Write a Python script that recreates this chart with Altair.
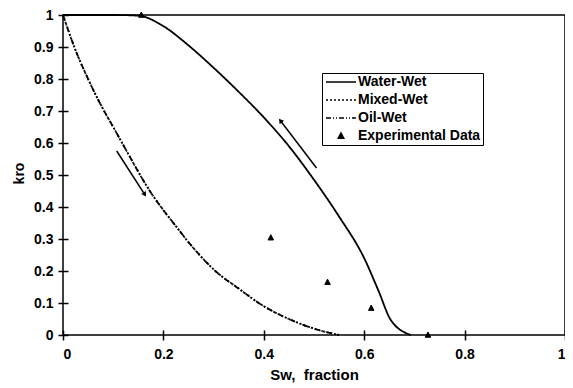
import math
import altair as alt
import pandas as pd

# ---- data ----
ww_x = [0.0, 0.05, 0.10, 0.15, 0.20, 0.25, 0.30, 0.35, 0.40, 0.45, 0.50, 0.55, 0.60, 0.628, 0.653, 0.693]
ww_y = [1.0, 1.0, 1.0, 0.998, 0.965, 0.905, 0.835, 0.76, 0.68, 0.59, 0.485, 0.37, 0.24, 0.14, 0.047, 0.0]

ow_x = [0.0, 0.025, 0.05, 0.075, 0.10, 0.125, 0.15, 0.175, 0.20, 0.225, 0.25, 0.275, 0.30, 0.35, 0.40, 0.45, 0.50, 0.55]
ow_y = [1.0, 0.89, 0.80, 0.72, 0.65, 0.58, 0.51, 0.445, 0.39, 0.34, 0.29, 0.245, 0.205, 0.145, 0.09, 0.05, 0.02, 0.0]

mw_x = ow_x
mw_y = ow_y

exp_x = [0.156, 0.414, 0.527, 0.614, 0.727]
exp_y = [1.0, 0.304, 0.165, 0.084, 0.0]

arrow_x = [0.107, 0.505]
arrow_y = [0.575, 0.522]
arrow_x2 = [0.162, 0.434]
arrow_y2 = [0.441, 0.668]

series_names = ["Water-Wet", "Mixed-Wet", "Oil-Wet", "Experimental Data"]
x_ticks = [0, 0.2, 0.4, 0.6, 0.8, 1]
y_ticks = [0, 0.1, 0.2, 0.3, 0.4, 0.5, 0.6, 0.7, 0.8, 0.9, 1]

W, H = 502, 320
FONT = "Liberation Sans"

lines_df = pd.concat([
    pd.DataFrame({"x": ww_x, "y": ww_y, "series": "Water-Wet"}),
    pd.DataFrame({"x": mw_x, "y": mw_y, "series": "Mixed-Wet"}),
    pd.DataFrame({"x": ow_x, "y": ow_y, "series": "Oil-Wet"}),
], ignore_index=True)
lines_df["order"] = range(len(lines_df))

pts_df = pd.DataFrame({"x": exp_x, "y": exp_y, "series": "Experimental Data"})

angles = []
for a, b, c, d in zip(arrow_x, arrow_y, arrow_x2, arrow_y2):
    dx = (c - a) * W
    dy = -(d - b) * H
    angles.append(math.degrees(math.atan2(dx, -dy)) % 360)
arrows_df = pd.DataFrame({"x": arrow_x, "y": arrow_y, "xe": arrow_x2, "ye": arrow_y2, "angle": angles})

line_path = "M-3,0H3"
tri_path = "M0,-0.6L0.55,0.45L-0.55,0.45Z"

legend = alt.Legend(
    title=None, orient="none", legendX=259, legendY=58,
    strokeColor="black", padding=2, rowPadding=4,
    symbolSize=100, symbolStrokeColor="black", symbolFillColor="black",
    symbolStrokeWidth=1.5, symbolOffset=10, labelOffset=10,
    labelFont=FONT, labelFontSize=14, labelFontWeight="bold", labelColor="black",
)

x_axis = alt.Axis(values=x_ticks, format="~g", title="Sw,\u00a0 fraction")
y_axis = alt.Axis(values=y_ticks, format="~g", title="kro", titleY=158)
x_scale = alt.Scale(domain=[0, 1], nice=False)
y_scale = alt.Scale(domain=[0, 1], nice=False)
black4 = ["black", "black", "black", "black"]

lines = alt.Chart(lines_df).mark_line(color="black", strokeWidth=1.8, interpolate="monotone").encode(
    x=alt.X("x:Q", scale=x_scale, axis=x_axis),
    y=alt.Y("y:Q", scale=y_scale, axis=y_axis),
    strokeDash=alt.StrokeDash("series:N", scale=alt.Scale(
        domain=series_names, range=[[1, 0], [2, 2], [5, 2, 1, 2, 1, 2], [1, 0]]), legend=legend),
    order="order:Q",
)

points = alt.Chart(pts_df).mark_point(filled=True, strokeWidth=1, size=100, opacity=1).encode(
    x=alt.X("x:Q", scale=x_scale, axis=x_axis),
    y=alt.Y("y:Q", scale=y_scale, axis=y_axis),
    shape=alt.Shape("series:N", scale=alt.Scale(
        domain=series_names, range=[line_path, line_path, line_path, tri_path]), legend=legend),
    stroke=alt.Stroke("series:N", scale=alt.Scale(domain=series_names, range=black4), legend=legend),
    fill=alt.Fill("series:N", scale=alt.Scale(domain=series_names, range=black4), legend=legend),
)

shafts = alt.Chart(arrows_df).mark_rule(color="black", strokeWidth=1.5).encode(
    x=alt.X("x:Q", scale=x_scale, axis=x_axis),
    y=alt.Y("y:Q", scale=y_scale, axis=y_axis),
    x2="xe:Q", y2="ye:Q",
)

heads = alt.Chart(arrows_df).mark_point(shape="triangle", filled=True, color="black", size=30, opacity=1).encode(
    x=alt.X("xe:Q", scale=x_scale, axis=x_axis),
    y=alt.Y("ye:Q", scale=y_scale, axis=y_axis),
    angle=alt.Angle("angle:Q", scale=None),
)

chart = alt.layer(lines, shafts, heads, points).properties(
    width=W, height=H,
    padding={"left": 55, "top": 7, "right": 0, "bottom": 48},
    autosize=alt.AutoSizeParams(type="none"),
).configure_view(
    stroke="black", strokeWidth=1.5
).configure_axis(
    domain=False, grid=False, offset=-5, tickSize=10, tickColor="black", tickWidth=1.5,
    labelFont=FONT, labelFontSize=14, labelFontWeight="bold", labelColor="black",
    titleFont=FONT, titleFontWeight="bold", titleColor="black",
).configure_axisX(
    labelPadding=7, titlePadding=6, titleFontSize=15
).configure_axisY(
    labelPadding=5, titlePadding=7, titleFontSize=14
)

chart.save("out.html", embed_options={"renderer": "svg", "actions": False})
